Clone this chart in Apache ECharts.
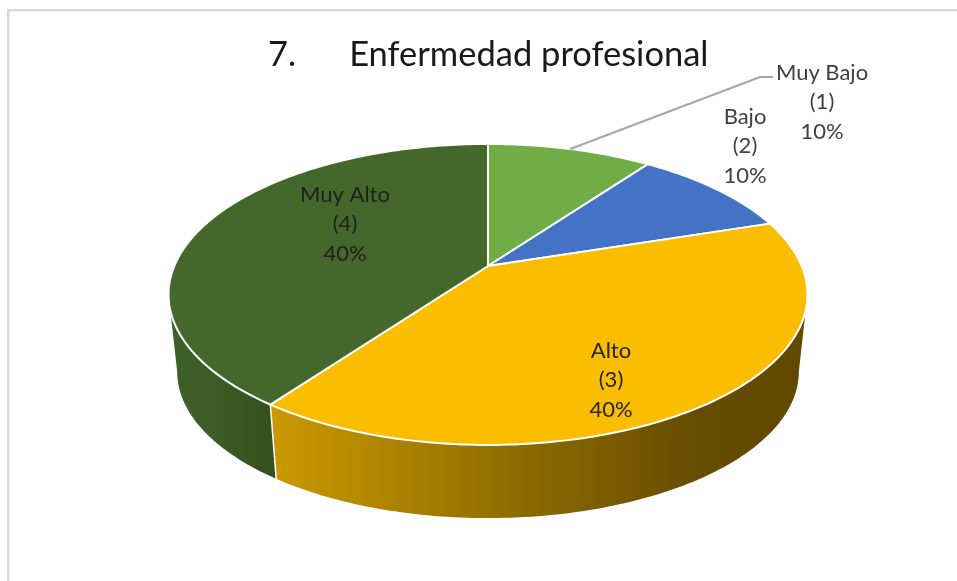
<!DOCTYPE html>
<html>
<head>
<meta charset="utf-8">
<title>Enfermedad profesional</title>
<script src="https://cdn.jsdelivr.net/npm/echarts@6/dist/echarts.min.js"></script>
<style>
  html, body { margin: 0; padding: 0; background: #fff; }
  #chart { width: 957px; height: 581px; }
</style>
</head>
<body>
<div id="chart"></div>
<script>
const titleText = '7.      Enfermedad profesional'
const categories = ['Muy Bajo', 'Bajo', 'Alto', 'Muy Alto']
const levels = [1, 2, 3, 4]
const values = [10, 10, 40, 40]

const topColors = ['#70AD47', '#4472C4', '#FBBD00', '#44682B']
const labelColors = ['#404040', '#404040', '#262626', '#1F1F1F']

// posicion de las etiquetas [x, y] del centro del texto
const labelAnchors = [[822, 102], [745, 146], [611, 380], [345, 224]]

// vista 3D: proyeccion en perspectiva del circulo de la tapa
const view = {cx: 488, cy: 266, a: 313.7, b: 145.1, p: 0.189, depthY: 78, bottomScale: 0.973}
const total = values.reduce((s, v) => s + v, 0)
const wallFrom = Math.acos(-view.p) * 180 / Math.PI
const wallTo = 360 - wallFrom

const project = (deg, bottom) => {
  const t = deg * Math.PI / 180
  const u = Math.sin(t), v = Math.cos(t)
  const k = bottom ? view.bottomScale : 1
  const d = 1 + view.p * v
  return [
    view.cx + k * view.a * u / d,
    view.cy + (bottom ? view.depthY : 0) - k * view.b * v / d
  ]
}
const arcPoints = (from, to, bottom) => {
  const pts = []
  const n = Math.max(2, Math.ceil(Math.abs(to - from)))
  for (let i = 0; i <= n; i++) pts.push(project(from + (to - from) * i / n, bottom))
  return pts
}

const startAngle = (idx) => values.slice(0, idx).reduce((s, v) => s + v, 0) / total * 360
const wallGradients = {
  2: [
    {offset: 0, color: '#CB9A00'},
    {offset: 0.45, color: '#8F6C00'},
    {offset: 0.8, color: '#654C00'},
    {offset: 1, color: '#624900'}
  ],
  3: [
    {offset: 0, color: '#3E6127'},
    {offset: 0.4, color: '#3C5E25'},
    {offset: 1, color: '#32501D'}
  ]
}

const renderWall = (params, api) => {
  const idx = params.dataIndex
  const stops = wallGradients[idx]
  if (!stops) return {type: 'group', children: []}
  const a0 = Math.max(api.value(1), wallFrom)
  const a1 = Math.min(api.value(2), wallTo)
  const pts = arcPoints(a0, a1, false).concat(arcPoints(a1, a0, true))
  const xs = pts.map(p => p[0])
  // el gradiente va de izquierda a derecha
  const fill = new echarts.graphic.LinearGradient(Math.min(...xs), 0, Math.max(...xs), 0, stops, true)
  return {type: 'polygon', shape: {points: pts}, style: {fill: fill}, silent: true}
}

const renderTop = (params, api) => {
  const a0 = api.value(1), a1 = api.value(2)
  const pts = [[view.cx, view.cy]].concat(arcPoints(a0, a1, false))
  return {
    type: 'polygon',
    shape: {points: pts},
    style: {fill: topColors[params.dataIndex], stroke: '#fff', lineWidth: 2, lineJoin: 'round'},
    silent: true
  }
}

const renderLabel = (params, api) => {
  const idx = params.dataIndex
  const pos = labelAnchors[idx]
  const pct = Math.round(api.value(0) / total * 100)
  const children = [{
    type: 'text',
    style: {
      x: pos[0], y: pos[1],
      text: categories[idx] + '\n(' + levels[idx] + ')\n' + pct + '%',
      align: 'center', verticalAlign: 'middle',
      fontFamily: 'Lato', fontSize: 22, lineHeight: 29.5, fill: labelColors[idx]
    },
    silent: true
  }]
  if (idx === 0) {
    // linea guia de Muy Bajo
    const mid = project((api.value(1) + api.value(2)) / 2, false)
    children.unshift({
      type: 'polyline',
      shape: {points: [mid, [760, 77], [773, 77]]},
      style: {stroke: '#A6A6A6', lineWidth: 2, fill: null},
      silent: true
    })
  }
  return {type: 'group', children: children}
}

const rows = values.map((v, i) => [v, startAngle(i), startAngle(i) + v / total * 360])

const chart = echarts.init(document.getElementById('chart'), null, {renderer: 'canvas'})
chart.setOption({
  animation: false,
  backgroundColor: '#fff',
  title: {
    text: titleText,
    left: 263,
    top: 32,
    textStyle: {fontFamily: 'Lato', fontSize: 34.5, fontWeight: 'normal', color: '#1a1a1a'}
  },
  graphic: [
    {type: 'rect', shape: {x: 7, y: 9, width: 950, height: 2.5}, style: {fill: '#D9D9D9'}, silent: true},
    {type: 'rect', shape: {x: 7, y: 9, width: 2.5, height: 572}, style: {fill: '#D9D9D9'}, silent: true}
  ],
  series: [
    {type: 'custom', coordinateSystem: 'none', renderItem: renderWall, data: rows, z: 1},
    {
      // separacion blanca entre las paredes laterales
      type: 'custom', coordinateSystem: 'none', z: 2, data: rows.slice(3),
      renderItem: (params, api) => {
        const t = project(api.value(1), false), b = project(api.value(1), true)
        return {
          type: 'line',
          shape: {x1: t[0], y1: t[1], x2: b[0], y2: b[1]},
          style: {stroke: '#fff', lineWidth: 1.5},
          silent: true
        }
      }
    },
    {type: 'custom', coordinateSystem: 'none', renderItem: renderTop, data: rows, z: 3},
    {type: 'custom', coordinateSystem: 'none', renderItem: renderLabel, data: rows, z: 4}
  ]
})
</script>
</body>
</html>
